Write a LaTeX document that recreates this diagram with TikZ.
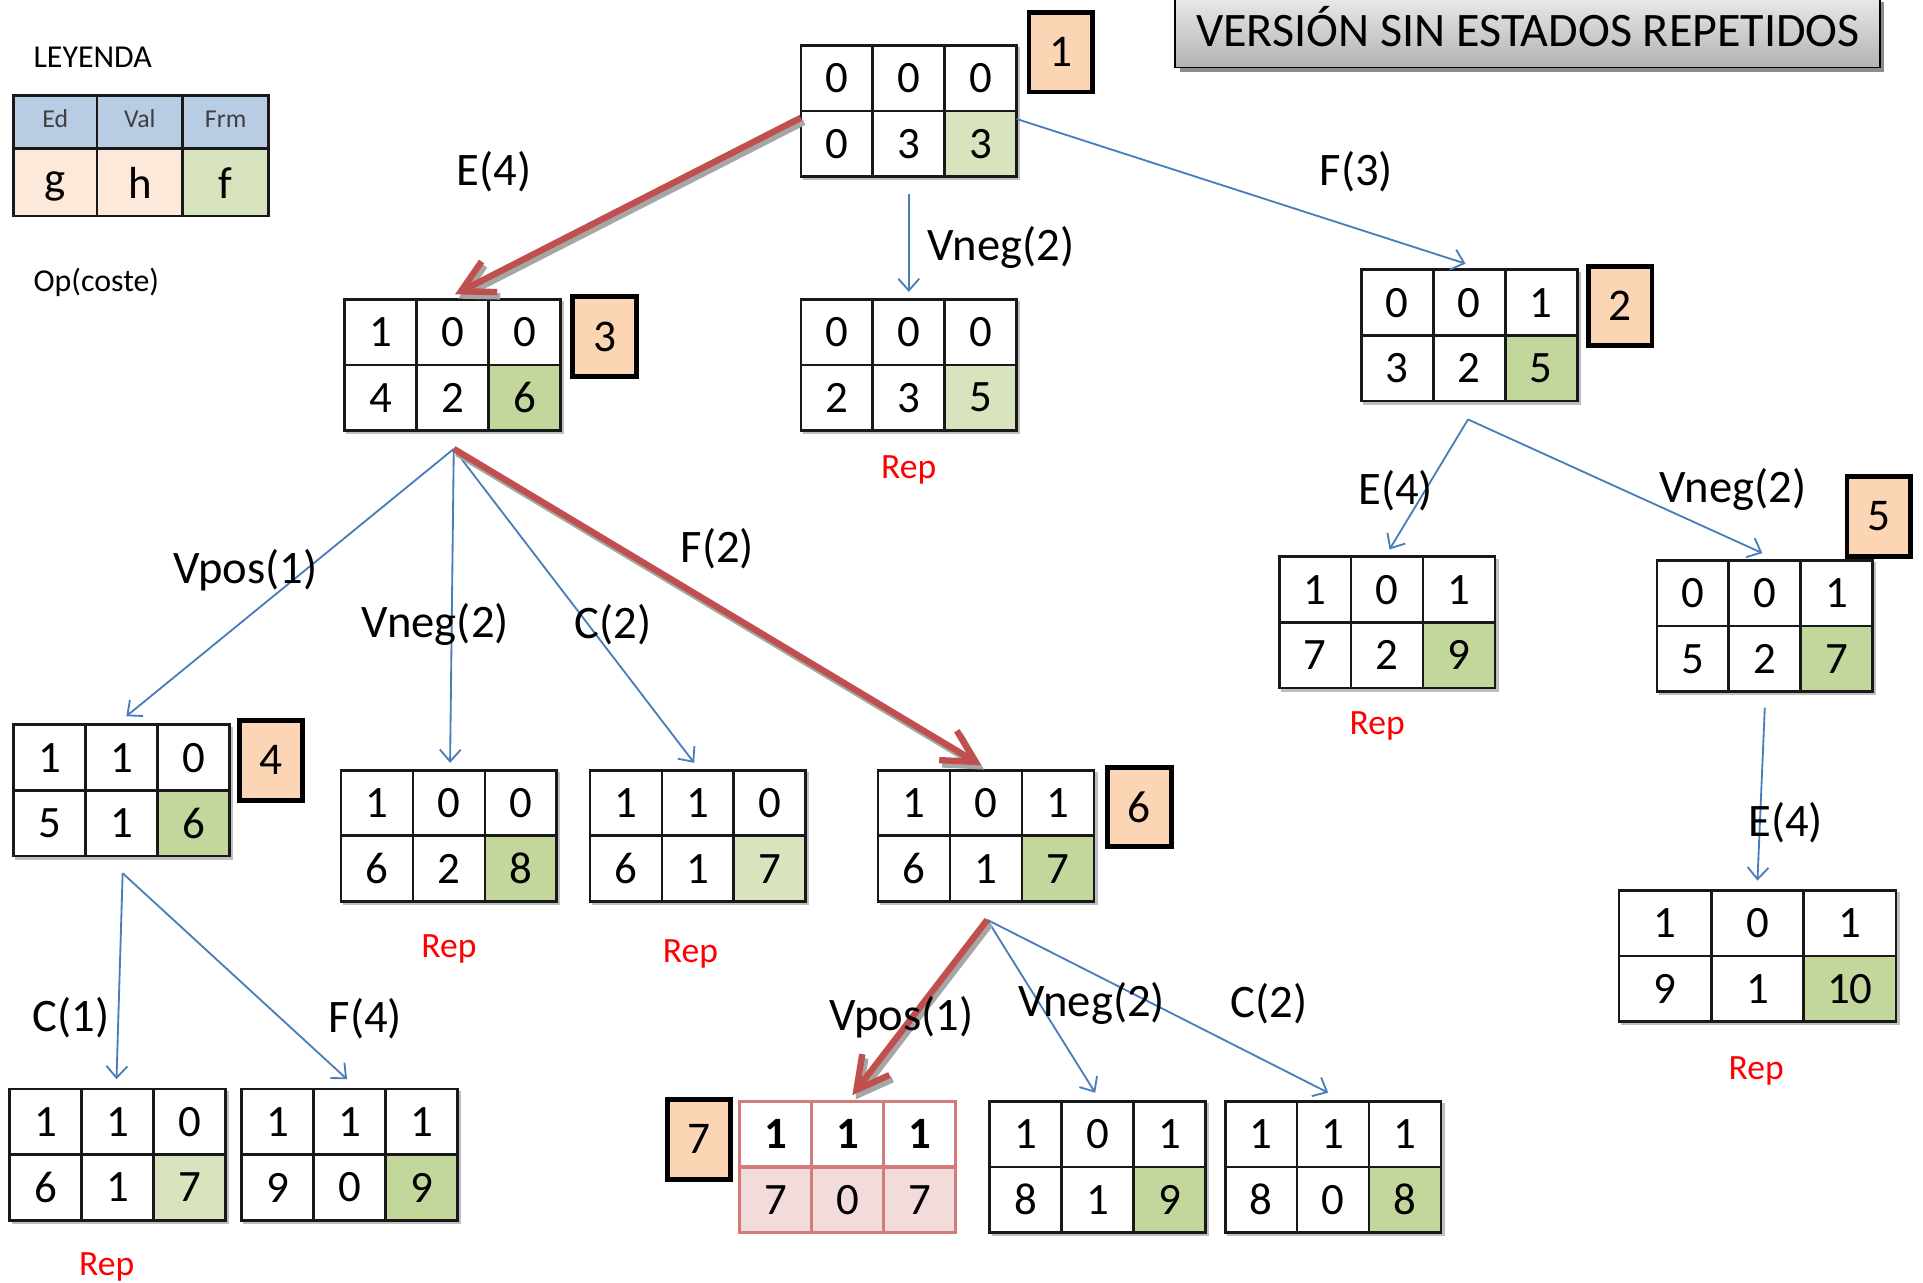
\documentclass[tikz,border=0pt]{standalone}
\usepackage{fontspec}
\setmainfont{Carlito}
\usetikzlibrary{arrows.meta,calc}
\definecolor{greenL}{HTML}{D7E4BD}
\definecolor{greenD}{HTML}{C3D69B}
\definecolor{peach}{HTML}{FCD5B4}
\definecolor{legpeach}{HTML}{FDE9D9}
\definecolor{legblue}{HTML}{B8CCE4}
\definecolor{edgeblue}{HTML}{4A7EBB}
\definecolor{arrowred}{HTML}{C0504D}
\definecolor{pinkseven}{HTML}{F2DCDB}
\definecolor{lineseven}{HTML}{D27B78}
\definecolor{legtext}{HTML}{404040}
\def\cw{58.67}
\def\ch{53.5}
\def\cellfill{greenD}
% #1 name, #2 x, #3 y (top-left), #4..#9 values
\newcommand\stbl[9]{%
  \node[tblnode, minimum width={3*\cw*0.5pt}, minimum height={2*\ch*0.5pt}, anchor=north west] (#1) at (#2,#3) {};
  \draw[tshadow] ({#2+1.5},{#3+2*\ch+2}) -- ({#2+3*\cw+2},{#3+2*\ch+2}) -- ({#2+3*\cw+2},{#3+1.5});
  \fill[\cellfill] ({#2+2*\cw},{#3+\ch}) rectangle ({#2+3*\cw},{#3+2*\ch});
  \draw[tline] (#2,#3) rectangle ({#2+3*\cw},{#3+2*\ch});
  \draw[tline] (#2,{#3+\ch}) -- ({#2+3*\cw},{#3+\ch});
  \draw[tline] ({#2+\cw},#3) -- ({#2+\cw},{#3+2*\ch});
  \draw[tline] ({#2+2*\cw},#3) -- ({#2+2*\cw},{#3+2*\ch});
  \node[num] (#1-a) at ({#2+0.5*\cw},{#3+0.5*\ch}) {#4};
  \node[num] (#1-b) at ({#2+1.5*\cw},{#3+0.5*\ch}) {#5};
  \node[num] (#1-c) at ({#2+2.5*\cw},{#3+0.5*\ch}) {#6};
  \node[num] (#1-d) at ({#2+0.5*\cw},{#3+1.5*\ch}) {#7};
  \node[num] (#1-e) at ({#2+1.5*\cw},{#3+1.5*\ch}) {#8};
  \node[num] (#1-f) at ({#2+2.5*\cw},{#3+1.5*\ch}) {#9};
}
\newcommand\redarrow[2]{%
  \draw[rshadow] ([shift={(2.5,3.5)}]#1) -- ([shift={(2.5,3.5)}]#2);
  \draw[redge] (#1) -- (#2);
}
\begin{document}
\begin{tikzpicture}[x=0.5pt,y=-0.5pt,
  tblnode/.style={inner sep=0pt, outer sep=0pt},
  tline/.style={line width=1.1pt, draw=black!90},
  tshadow/.style={line width=1pt, draw=black!25},
  num/.style={font=\fontsize{18.3}{18.3}\selectfont, inner sep=0pt},
  badge/.style={draw=black, line width=2pt, fill=peach, minimum width=26pt, minimum height=32.5pt, inner sep=0pt, font=\fontsize{18.5}{18.5}\selectfont},
  lbl/.style={font=\fontsize{19}{19}\selectfont, inner sep=0pt},
  rep/.style={text=red, font=\fontsize{14.5}{14.5}\selectfont, inner sep=0pt},
  small/.style={font=\fontsize{13}{13}\selectfont, inner sep=0pt},
  legh/.style={text=legtext, font=\fontsize{10.5}{10.5}\selectfont, inner sep=0pt},
  bedge/.style={draw=edgeblue, line width=0.75pt, -{Straight Barb[length=4.8pt,width=8.5pt]}},
  redge/.style={draw=arrowred, line width=2.6pt, -{Straight Barb[length=13pt,width=14pt]}},
  rshadow/.style={draw=black!35, line width=2.6pt, -{Straight Barb[length=13pt,width=14pt]}},
]
\useasboundingbox (0,0) rectangle (1568,1046);

% ---------- title ----------
\fill[black!45] (962,2) rectangle (1536,59);
\shade[top color=black!8, bottom color=black!30, draw=black, line width=0.7pt] (958,-4) rectangle (1533,55);
\node[font=\fontsize{19.6}{19.6}\selectfont, inner sep=0pt] (title) at (1246,22) {VERSIÓN SIN ESTADOS REPETIDOS};

% ---------- legend ----------
\node[small, anchor=west] (leyenda) at (27,47) {LEYENDA};
\fill[legblue] (11,78) rectangle (219,121);
\fill[legpeach] (11,121) rectangle (149,176);
\fill[greenL] (149,121) rectangle (219,176);
\draw[tline] (11,78) rectangle (219,176);
\draw[tline] (11,121) -- (219,121);
\draw[tline] (79,78) -- (79,176);
\draw[tline] (149,78) -- (149,176);
\node[legh] (lEd) at (45,97) {Ed};
\node[legh] (lVal) at (114,97) {Val};
\node[legh] (lFrm) at (184,97) {Frm};
\node[num] (lg) at (45,152) {g};
\node[num] (lh) at (114,149) {h};
\node[num] (lf) at (184,149) {f};
\node[small, anchor=west] (opcoste) at (27,230) {Op(coste)};

% ---------- state tables ----------
{\def\cellfill{greenL}\stbl{n1}{653}{37}{0}{0}{0}{0}{3}{3}}
\stbl{n3}{281}{244}{1}{0}{0}{4}{2}{6}
{\def\cellfill{greenL}\stbl{r1}{653}{244}{0}{0}{0}{2}{3}{5}}
\stbl{n2}{1110}{220}{0}{0}{1}{3}{2}{5}
\stbl{n4}{11}{591}{1}{1}{0}{5}{1}{6}
\stbl{r3}{278}{628}{1}{0}{0}{6}{2}{8}
{\def\cellfill{greenL}\stbl{r4}{481}{628}{1}{1}{0}{6}{1}{7}}
\stbl{n6}{716}{628}{1}{0}{1}{6}{1}{7}
\stbl{r2}{1043}{454}{1}{0}{1}{7}{2}{9}
\stbl{n5}{1351}{457}{0}{0}{1}{5}{2}{7}
{\def\cw{75.33}\stbl{r6}{1320}{726}{1}{0}{1}{9}{1}{10}}
{\def\cellfill{greenL}\stbl{r5}{8}{888}{1}{1}{0}{6}{1}{7}}
\stbl{t4}{197}{888}{1}{1}{1}{9}{0}{9}
\stbl{t6a}{807}{898}{1}{0}{1}{8}{1}{9}
\stbl{t6b}{999}{898}{1}{1}{1}{8}{0}{8}

% node 7 (goal)
\node[tblnode, minimum width={3*\cw*0.5pt}, minimum height={2*\ch*0.5pt}, anchor=north west] (n7) at (603,898) {};
\fill[pinkseven] (603,951.5) rectangle ({603+3*\cw},1005);
\draw[line width=1pt, draw=lineseven] (603,898) rectangle ({603+3*\cw},1005);
\draw[line width=1.6pt, draw=lineseven] (603,951.5) -- ({603+3*\cw},951.5);
\draw[line width=1pt, draw=lineseven] ({603+\cw},898) -- ({603+\cw},1005);
\draw[line width=1pt, draw=lineseven] ({603+2*\cw},898) -- ({603+2*\cw},1005);
\node[num, font=\fontsize{18.3}{18.3}\selectfont\bfseries] (n7-a) at ({603+0.5*\cw},924.75) {1};
\node[num, font=\fontsize{18.3}{18.3}\selectfont\bfseries] (n7-b) at ({603+1.5*\cw},924.75) {1};
\node[num, font=\fontsize{18.3}{18.3}\selectfont\bfseries] (n7-c) at ({603+2.5*\cw},924.75) {1};
\node[num] (n7-d) at ({603+0.5*\cw},978.25) {7};
\node[num] (n7-e) at ({603+1.5*\cw},978.25) {0};
\node[num] (n7-f) at ({603+2.5*\cw},978.25) {7};

% ---------- badges ----------
\node[badge] (b1) at (865,42.5) {1};
\node[badge] (b3) at (493,274.5) {3};
\node[badge] (b2) at (1321,249.5) {2};
\node[badge] (b4) at (221,620) {4};
\node[badge] (b6) at (929,658) {6};
\node[badge] (b5) at (1532,421) {5};
\node[badge] (b7) at (570,929) {7};

% ---------- Rep labels ----------
\node[rep] (rep1) at (741,383) {Rep};
\node[rep] (rep3) at (366,774) {Rep};
\node[rep] (rep4) at (563,778) {Rep};
\node[rep] (rep2) at (1123,592) {Rep};
\node[rep] (rep6) at (1432,873) {Rep};
\node[rep] (rep5) at (87,1033) {Rep};

% ---------- connector end points ----------
\coordinate (n1L) at (653,96);   \coordinate (n3T) at (371,240);
\coordinate (n1B) at (741,158);  \coordinate (r1T) at (741,238);
\coordinate (n1R) at (829,97);   \coordinate (n2T) at (1195,215);
\coordinate (n3B) at (370,366);
\coordinate (n4T) at (103,584);  \coordinate (r3T) at (367,622);
\coordinate (r4T) at (566,622);  \coordinate (n6T) at (800,624);
\coordinate (n2B) at (1197,342);
\coordinate (r2T) at (1133,448); \coordinate (n5T) at (1437,451);
\coordinate (n5B) at (1439,577); \coordinate (r6T) at (1433,718);
\coordinate (n4B) at (100,712);
\coordinate (r5T) at (95,880);   \coordinate (t4T) at (283,880);
\coordinate (n6B) at (805,750);
\coordinate (n7T) at (695,893);  \coordinate (t6aT) at (893,891);
\coordinate (t6bT) at (1083,891);

% ---------- connectors ----------
\draw[bedge] (n1B) -- (r1T);
\draw[bedge] (n1R) -- (n2T);
\draw[bedge] (n3B) -- (n4T);
\draw[bedge] (n3B) -- (r3T);
\draw[bedge] (n3B) -- (r4T);
\draw[bedge] (n2B) -- (r2T);
\draw[bedge] (n2B) -- (n5T);
\draw[bedge] (n5B) -- (r6T);
\draw[bedge] (n4B) -- (r5T);
\draw[bedge] (n4B) -- (t4T);
\draw[bedge] (n6B) -- (t6aT);
\draw[bedge] (n6B) -- (t6bT);
\redarrow{n1L}{n3T}
\redarrow{n3B}{n6T}
\redarrow{n6B}{n7T}

% ---------- operator labels ----------
\node[lbl] (lE1) at (403,140) {E(4)};
\node[lbl] (lV1) at (816,202) {Vneg(2)};
\node[lbl] (lF1) at (1106,140) {F(3)};
\node[lbl] (lP3) at (200,465) {Vpos(1)};
\node[lbl] (lV3) at (355,509) {Vneg(2)};
\node[lbl] (lC3) at (500,509) {C(2)};
\node[lbl] (lF3) at (585,447) {F(2)};
\node[lbl] (lE2) at (1138,400) {E(4)};
\node[lbl] (lV2) at (1413,399) {Vneg(2)};
\node[lbl] (lE5) at (1456,671) {E(4)};
\node[lbl] (lC4) at (58,830) {C(1)};
\node[lbl] (lF4) at (298,831) {F(4)};
\node[lbl] (lP6) at (735,829) {Vpos(1)};
\node[lbl] (lV6) at (890,818) {Vneg(2)};
\node[lbl] (lC6) at (1035,818) {C(2)};
\end{tikzpicture}
\end{document}
